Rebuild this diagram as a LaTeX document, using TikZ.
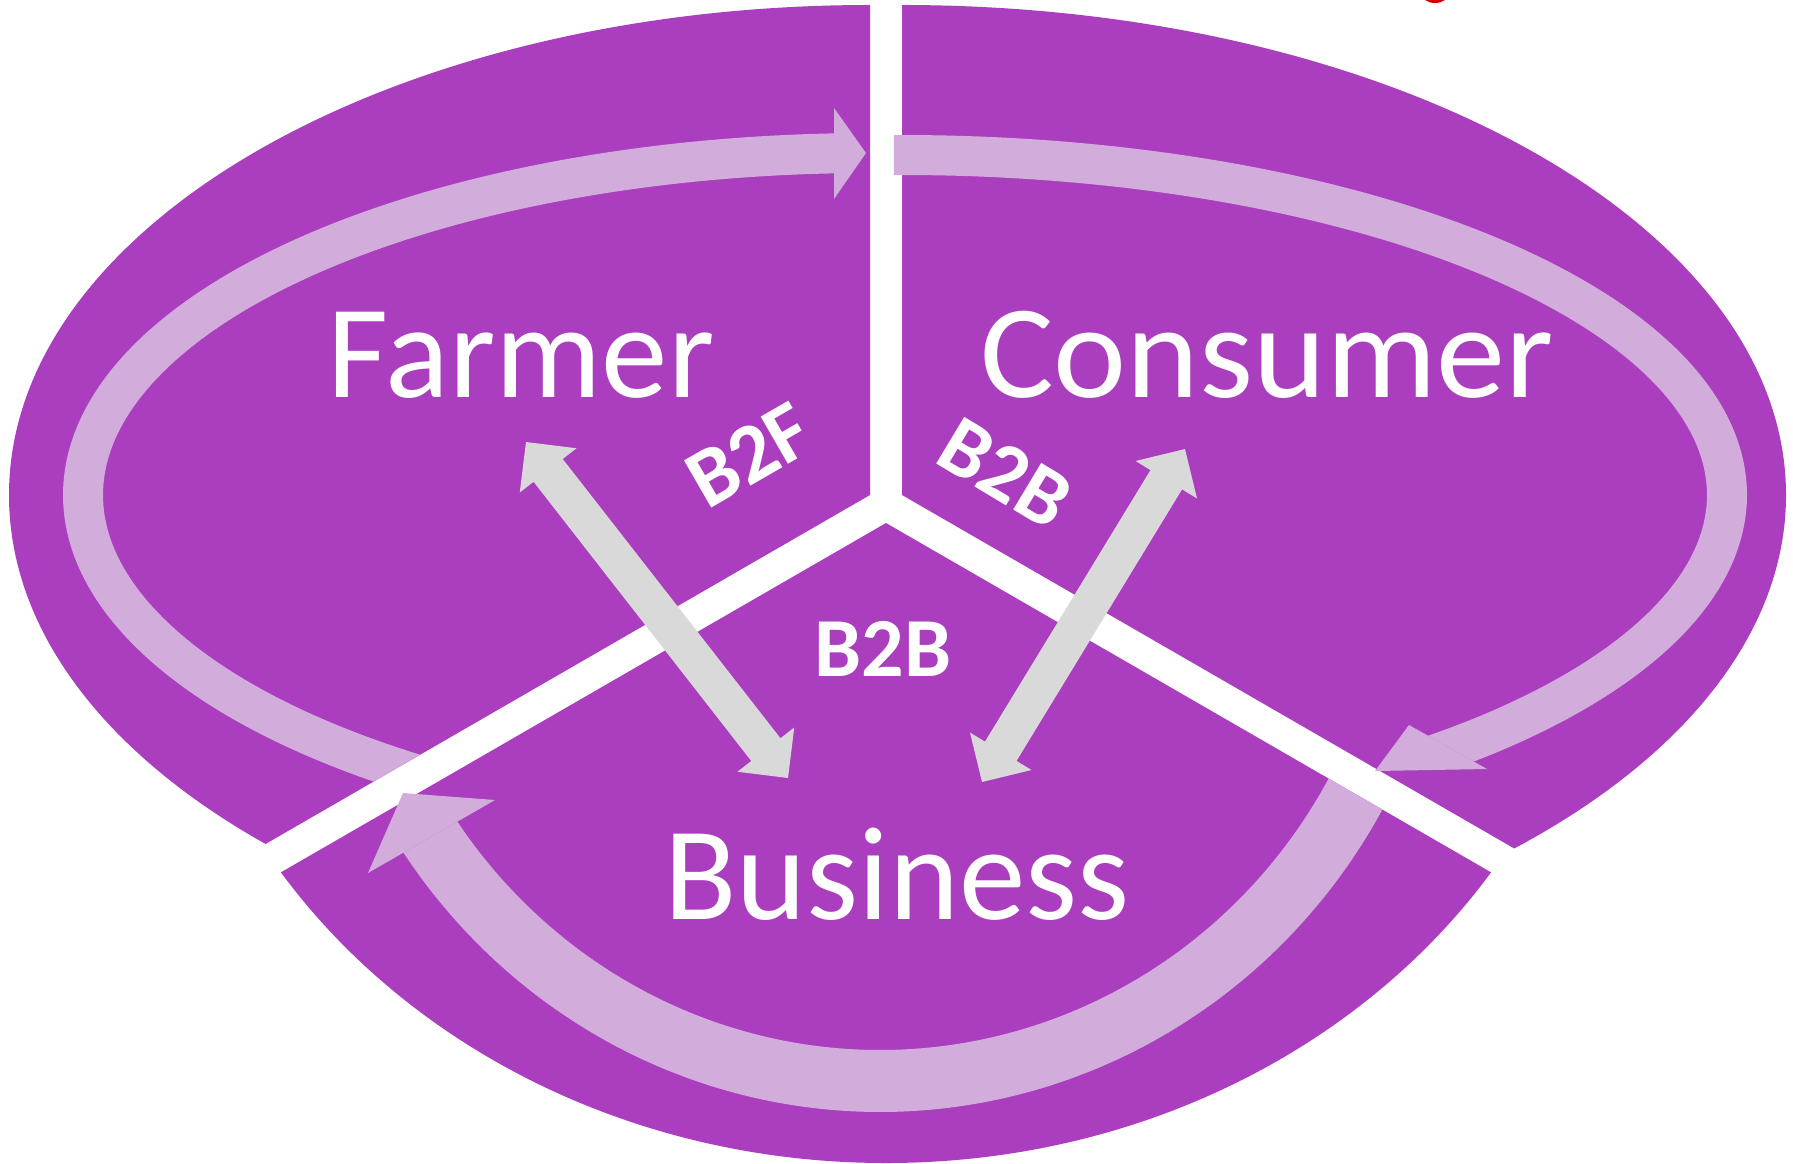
\documentclass[tikz,border=0pt]{standalone}
\usepackage{fontspec}
\setmainfont{Carlito}
\usetikzlibrary{calc}
\definecolor{wedge}{RGB}{171,62,191}
\definecolor{lightarr}{RGB}{210,173,219}
\definecolor{grayarr}{RGB}{217,217,217}
\newcommand{\twoway}[2]{%
  \coordinate (ba) at ($(#1)!36pt!(#2)$);
  \coordinate (bb) at ($(#2)!36pt!(#1)$);
  \fill[dbl] (#1) -- ($(ba)!36pt!90:(#1)$) -- ($(ba)!18.5pt!90:(#1)$)
    -- ($(bb)!18.5pt!-90:(#2)$) -- ($(bb)!36pt!-90:(#2)$) -- (#2)
    -- ($(bb)!36pt!90:(#2)$) -- ($(bb)!18.5pt!90:(#2)$)
    -- ($(ba)!18.5pt!-90:(#1)$) -- ($(ba)!36pt!-90:(#1)$) -- cycle;}
\begin{document}
\begin{tikzpicture}[x=1pt,y=-1pt,
  wedgefill/.style={fill=wedge},
  loop/.style={draw=lightarr, line cap=butt},
  head/.style={fill=lightarr},
  dbl/.style={fill=grayarr},
  biglabel/.style={text=white, font=\fontsize{133}{140}\selectfont, inner sep=0pt, anchor=base},
  flowlabel/.style={text=white, font=\bfseries\fontsize{84}{90}\selectfont, inner sep=0pt}]
\useasboundingbox (0,0) rectangle (1793,1163);
\fill[white] (0,0) rectangle (1793,1163);

% small red mark at the top edge
\fill[red!80!black] (1435,-7) ellipse [x radius=14pt, y radius=10pt];

% Farmer wedge
\coordinate (fc) at (870,495);
\begin{scope}
  \clip (fc) -- (-300,1170.5) -- (-300,-300) -- (870,-300) -- cycle;
  \fill[wedgefill] (fc) ellipse [x radius=861pt, y radius=490pt];
\end{scope}
% Consumer wedge
\coordinate (cc) at (902,495);
\begin{scope}
  \clip (cc) -- (902,-300) -- (2200,-300) -- (2200,1244.4) -- cycle;
  \fill[wedgefill] (cc) ellipse [x radius=884pt, y radius=490pt];
\end{scope}
% Business wedge
\coordinate (bc) at (886,523);
\begin{scope}
  \clip (bc) -- (-300,1207.7) -- (-300,1500) -- (2100,1500) -- (2100,1223.9) -- cycle;
  \fill[wedgefill] (bc) ellipse [x radius=722pt, y radius=640pt];
\end{scope}

% light loop arrow 1 (Farmer)
\begin{scope}
  \clip (834,-200) -- (834,515.8) -- (-300,1170.5) -- (-300,-200) -- cycle;
  \draw[loop, line width=40pt] plot[domain=91:245, samples=160, smooth] ({870+787*cos(\x)},{495-342*sin(\x)});
\end{scope}
\coordinate (h1a) at (834,108); \coordinate (h1t) at (866,153); \coordinate (h1b) at (834,199);
\fill[head] (h1a) -- (h1t) -- (h1b) -- cycle;

% light loop arrow 2 (Consumer)
\begin{scope}
  \clip (-151,-155) -- (2969,1605) -- (3849,45) -- (729,-1715) -- cycle;
  \draw[loop, line width=40pt] plot[domain=90.56:-55, samples=160, smooth] ({902+825*cos(\x)},{495-340*sin(\x)});
\end{scope}
\coordinate (h2a) at (1409,725); \coordinate (h2t) at (1375,771); \coordinate (h2b) at (1487,769);
\fill[head] (h2a) -- (h2t) -- (h2b) -- cycle;

% light loop arrow 3 (Business)
\begin{scope}
  \clip (-500,-277.2) -- (2000,1166.2) -- (2000,2000) -- (-500,2000) -- cycle;
  \clip (-902,1603) -- (1638,143) -- (2368,1413) -- (-172,2873) -- cycle;
  \draw[loop, line width=62pt] plot[domain=-20:-152, samples=160, smooth] ({880+544*cos(\x)},{523-558*sin(\x)});
\end{scope}
\coordinate (h3a) at (368,873); \coordinate (h3t) at (403,793); \coordinate (h3b) at (495,800);
\fill[head] (h3a) -- (h3t) -- (h3b) -- cycle;

% grey two-way arrows
\coordinate (g1a) at (526,442); \coordinate (g1b) at (788,778);
\twoway{g1a}{g1b}
\coordinate (g2a) at (1185,449); \coordinate (g2b) at (982,782);
\twoway{g2a}{g2b}

% labels
\node[biglabel] (farmer) at (521,397) {Farmer};
\node[biglabel, xscale=1.04] (consumer) at (1267,397) {Consumer};
\node[biglabel] (business) at (897,919) {Business};
\node[flowlabel, anchor=base] (b2bmid) at (883,676) {B2B};
\node[flowlabel, rotate=30] (b2f) at (749,455) {B2F};
\node[flowlabel, rotate=-31] (b2bright) at (1005,473) {B2B};
\end{tikzpicture}
\end{document}
